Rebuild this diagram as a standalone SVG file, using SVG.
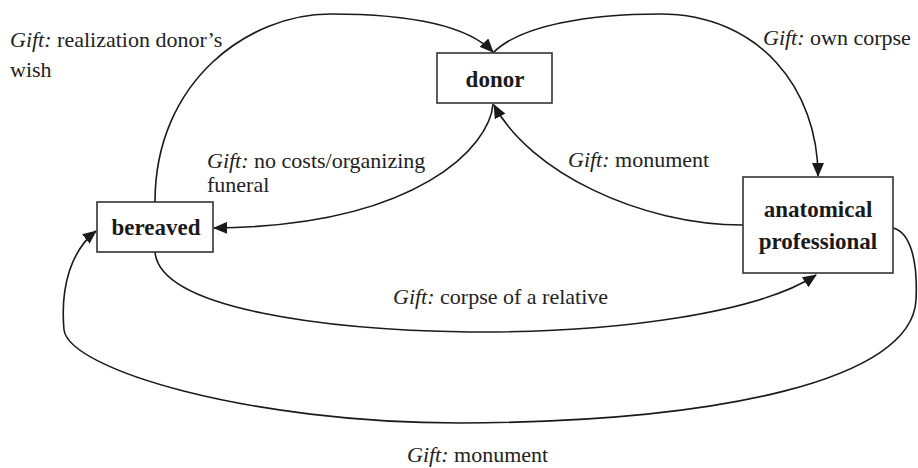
<svg xmlns="http://www.w3.org/2000/svg" width="918" height="468" viewBox="0 0 918 468">
<defs>
<marker id="ah" markerUnits="userSpaceOnUse" markerWidth="14" markerHeight="12" viewBox="0 0 14 12" refX="13" refY="6" orient="auto">
<path d="M0,0 L14,6 L0,12 Z" fill="#1a1a1a"/>
</marker>
<style>
.box{fill:#fff;stroke:#333;stroke-width:1.6}
.node{font-family:"Liberation Serif","Times New Roman",serif;font-weight:bold;font-size:23px;fill:#1a1a1a;text-anchor:middle}
.lbl{font-family:"Liberation Serif","DejaVu Serif",serif;font-weight:400;font-size:22px;fill:#222}
.g{font-style:italic}
.con path{fill:none;stroke:#1a1a1a;stroke-width:1.6;marker-end:url(#ah)}
</style>
</defs>
<rect width="918" height="468" fill="#fff"/>
<g id="connectors" class="con">
<path d="M155,202 C155,80 250,14 330,14 C420,14 470,28 493,52"/>
<path d="M493,53 C520,25 590,14 660,14 C760,14 818,90 818,176"/>
<path d="M493,104 C490,145 420,226 214,228"/>
<path d="M743,225 C640,225 530,172 494,105"/>
<path d="M155,252 C160,310 330,330 470,332 C620,333 760,312 816,275"/>
<path d="M893,228 C910,232 918,260 916,300 C912,380 720,422 460,423 C250,423 70,370 64,330 C60,285 72,250 96,231"/>
</g>
<g id="donor">
<rect class="box" x="437" y="53" width="115" height="50"/>
<text class="node" x="495" y="87">donor</text>
</g>
<g id="bereaved">
<rect class="box" x="97" y="202" width="116" height="50"/>
<text class="node" x="156" y="235">bereaved</text>
</g>
<g id="anatomical">
<rect class="box" x="743" y="177" width="150" height="96"/>
<text class="node" x="818" y="217">anatomical</text>
<text class="node" x="818" y="249">professional</text>
</g>
<g id="labels">
<text class="lbl" x="10" y="47"><tspan class="g">Gift:</tspan> realization donor’s</text>
<text class="lbl" x="10" y="77">wish</text>
<text class="lbl" x="763" y="45"><tspan class="g">Gift:</tspan> own corpse</text>
<text class="lbl" x="207" y="168"><tspan class="g">Gift:</tspan> no costs/organizing</text>
<text class="lbl" x="207" y="192">funeral</text>
<text class="lbl" x="568" y="167"><tspan class="g">Gift:</tspan> monument</text>
<text class="lbl" x="393" y="304"><tspan class="g">Gift:</tspan> corpse of a relative</text>
<text class="lbl" x="407" y="462"><tspan class="g">Gift:</tspan> monument</text>
</g>
</svg>
